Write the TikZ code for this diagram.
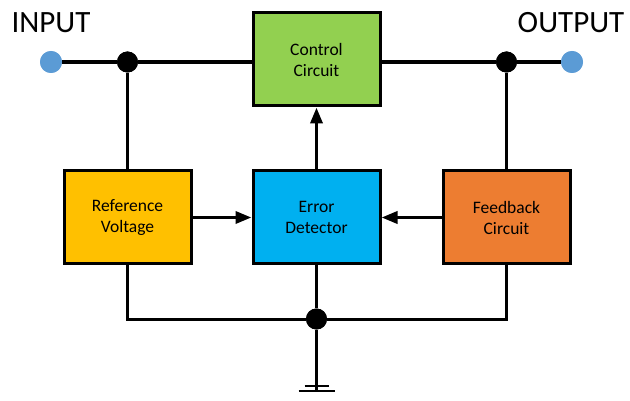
\documentclass[tikz,border=0pt]{standalone}
\usepackage{fontspec}
\setmainfont{Carlito}
\usetikzlibrary{arrows.meta}
\definecolor{cgreen}{HTML}{92D050}
\definecolor{cyellow}{HTML}{FFC000}
\definecolor{cblue}{HTML}{00B0F0}
\definecolor{corange}{HTML}{ED7D31}
\definecolor{cdot}{HTML}{5B9BD5}
\tikzset{
  blockbox/.style={draw=black, line width=3pt, minimum width=127pt, minimum height=93pt,
    inner sep=0pt, align=center, font=\fontsize{17.5}{21}\selectfont},
  wire/.style={line width=3.5pt},
  thinwire/.style={line width=3pt},
  arr/.style={line width=3.5pt, -{Triangle[length=16pt,width=12pt]}},
  junc/.style={circle, fill=black, minimum size=21pt, inner sep=0pt},
  term/.style={circle, fill=cdot, minimum size=22pt, inner sep=0pt},
  lbl/.style={font=\fontsize{31}{36}\selectfont, anchor=base, inner sep=0pt}
}
\begin{document}
\begin{tikzpicture}[x=1pt,y=-1pt]
\useasboundingbox (0,0) rectangle (630,401);
% blocks
\node[blockbox, fill=cgreen] (ctrl) at (316.5,59.5) {Control\\Circuit};
\node[blockbox, fill=cyellow] (ref) at (127.5,217.5) {Reference\\Voltage};
\node[blockbox, fill=cblue] (err) at (316.5,217.5) {Error\\Detector};
\node[blockbox, fill=corange] (fb) at (506.5,217.5) {Feedback\\Circuit};
% terminals and junctions
\node[term] (in) at (51,62) {};
\node[term] (out) at (572,62) {};
\node[junc] (jl) at (127.5,62) {};
\node[junc] (jr) at (506.5,62) {};
\node[junc] (gj) at (316.5,319) {};
\coordinate (gnd) at (316.5,391);
% labels
\node[lbl] (tin) at (51,33) {INPUT};
\node[lbl] (tout) at (571,33) {OUTPUT};
% wires
\draw[wire] (in) -- (jl) -- (jl -| ctrl.west);
\draw[wire] (jr -| ctrl.east) -- (jr) -- (out);
\draw[wire] (jl) -- (ref.north);
\draw[wire] (jr) -- (fb.north);
\draw[arr] (err.north) -- (ctrl.south);
\draw[arr] (ref.east) -- (err.west);
\draw[arr] (fb.west) -- (err.east);
\draw[thinwire] (ref.south) |- (gj);
\draw[thinwire] (fb.south) |- (gj);
\draw[thinwire] (err.south) -- (gj);
\draw[line width=2.5pt] (gj) -- (gnd);
\draw[line width=2.5pt] ([xshift=-18pt]gnd) -- ([xshift=18pt]gnd);
\draw[line width=2.5pt] ([xshift=-12pt,yshift=5pt]gnd) -- ([xshift=12pt,yshift=5pt]gnd);
% redraw junctions on top
\node[junc] at (jl) {};
\node[junc] at (jr) {};
\node[junc] at (gj) {};
\node[term] at (in) {};
\node[term] at (out) {};
\end{tikzpicture}
\end{document}
